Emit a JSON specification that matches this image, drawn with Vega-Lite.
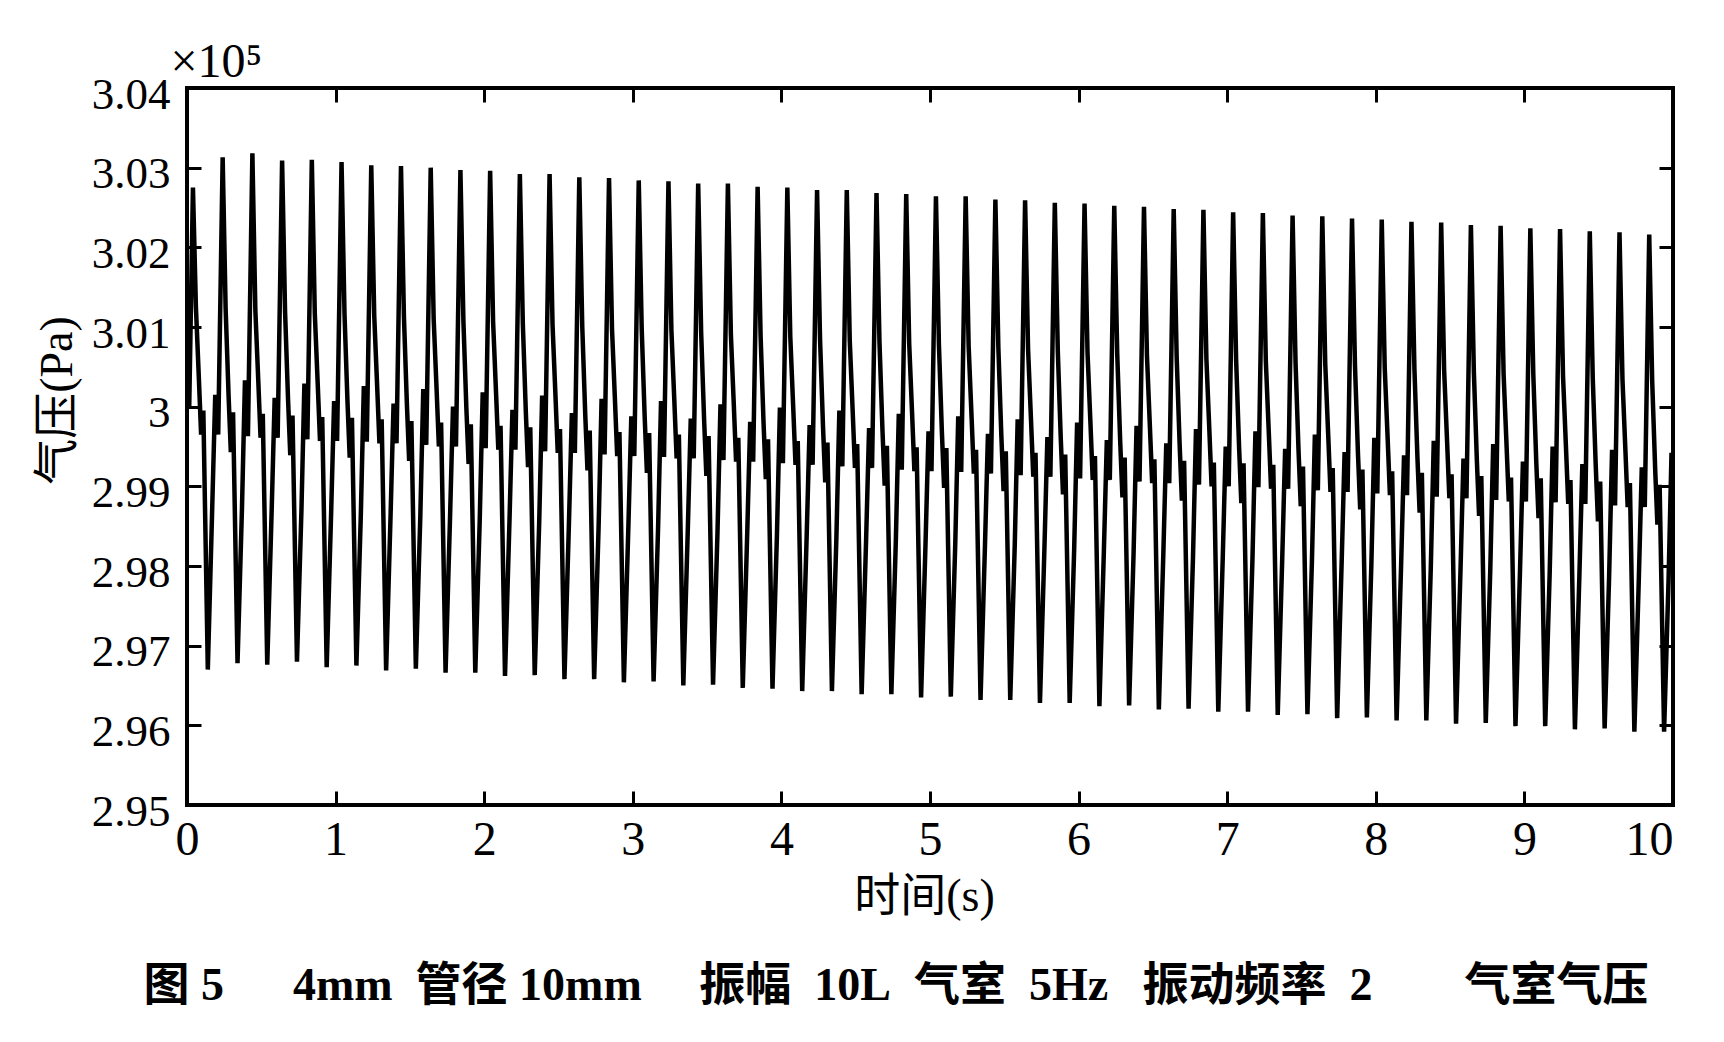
{
  "$schema": "https://vega.github.io/schema/vega-lite/v6.json",
  "autosize": "none",
  "width": 1486,
  "height": 717,
  "padding": {"left": 187, "top": 88, "right": 51, "bottom": 237},
  "background": "white",
  "title": {
    "text": "图 5\u2003\u20024mm\u2002管径 10mm\u2003 振幅\u200210L\u2002气室\u20025Hz\u2002 振动频率\u20022\u2003\u2003气室气压",
    "orient": "bottom",
    "anchor": "middle",
    "offset": 45,
    "dx": -34,
    "font": "Liberation Serif, Noto Sans CJK SC",
    "fontSize": 46,
    "fontWeight": "bold",
    "color": "black"
  },
  "data": {
    "values": [
      {"t":0,"p":3.004},{"t":0.015,"p":3.0},
      {"t":0.04,"p":3.0275},{"t":0.06,"p":3.0125},{"t":0.08,"p":3.0035},{"t":0.095,"p":2.9965},{"t":0.11,"p":2.9995},{"t":0.14,"p":2.967},{"t":0.17,"p":2.9875},{"t":0.19,"p":3.0015},{"t":0.21,"p":2.9965},
      {"t":0.24,"p":3.0313},{"t":0.26,"p":3.0123},{"t":0.28,"p":3.0013},{"t":0.295,"p":2.9943},{"t":0.31,"p":2.9993},{"t":0.34,"p":2.9678},{"t":0.37,"p":2.9873},{"t":0.39,"p":3.0033},{"t":0.41,"p":2.9963},
      {"t":0.44,"p":3.0318},{"t":0.46,"p":3.0121},{"t":0.48,"p":3.0031},{"t":0.495,"p":2.9961},{"t":0.51,"p":2.9991},{"t":0.54,"p":2.9676},{"t":0.57,"p":2.9871},{"t":0.59,"p":3.0011},{"t":0.61,"p":2.9961},
      {"t":0.64,"p":3.0309},{"t":0.66,"p":3.0119},{"t":0.68,"p":3.0009},{"t":0.695,"p":2.9939},{"t":0.71,"p":2.9989},{"t":0.74,"p":2.968},{"t":0.77,"p":2.9869},{"t":0.79,"p":3.0029},{"t":0.81,"p":2.9959},
      {"t":0.84,"p":3.031},{"t":0.86,"p":3.0117},{"t":0.88,"p":3.0027},{"t":0.895,"p":2.9957},{"t":0.91,"p":2.9987},{"t":0.94,"p":2.9673},{"t":0.97,"p":2.9867},{"t":0.99,"p":3.0007},{"t":1.01,"p":2.9957},
      {"t":1.04,"p":3.0307},{"t":1.06,"p":3.0116},{"t":1.08,"p":3.0006},{"t":1.095,"p":2.9936},{"t":1.11,"p":2.9986},{"t":1.14,"p":2.9675},{"t":1.17,"p":2.9866},{"t":1.19,"p":3.0026},{"t":1.21,"p":2.9956},
      {"t":1.24,"p":3.0303},{"t":1.26,"p":3.0114},{"t":1.28,"p":3.0024},{"t":1.295,"p":2.9954},{"t":1.31,"p":2.9984},{"t":1.34,"p":2.9669},{"t":1.37,"p":2.9864},{"t":1.39,"p":3.0004},{"t":1.41,"p":2.9954},
      {"t":1.44,"p":3.0302},{"t":1.46,"p":3.0112},{"t":1.48,"p":3.0002},{"t":1.495,"p":2.9932},{"t":1.51,"p":2.9982},{"t":1.54,"p":2.9671},{"t":1.57,"p":2.9862},{"t":1.59,"p":3.0022},{"t":1.61,"p":2.9952},
      {"t":1.64,"p":3.03},{"t":1.66,"p":3.011},{"t":1.68,"p":3.002},{"t":1.695,"p":2.995},{"t":1.71,"p":2.998},{"t":1.74,"p":2.9666},{"t":1.77,"p":2.986},{"t":1.79,"p":3.0},{"t":1.81,"p":2.995},
      {"t":1.84,"p":3.0297},{"t":1.86,"p":3.0108},{"t":1.88,"p":2.9998},{"t":1.895,"p":2.9928},{"t":1.91,"p":2.9978},{"t":1.94,"p":2.9666},{"t":1.97,"p":2.9858},{"t":1.99,"p":3.0018},{"t":2.01,"p":2.9948},
      {"t":2.04,"p":3.0296},{"t":2.06,"p":3.0106},{"t":2.08,"p":3.0016},{"t":2.095,"p":2.9946},{"t":2.11,"p":2.9976},{"t":2.14,"p":2.9662},{"t":2.17,"p":2.9856},{"t":2.19,"p":2.9996},{"t":2.21,"p":2.9946},
      {"t":2.24,"p":3.0292},{"t":2.26,"p":3.0104},{"t":2.28,"p":2.9994},{"t":2.295,"p":2.9924},{"t":2.31,"p":2.9974},{"t":2.34,"p":2.9663},{"t":2.37,"p":2.9854},{"t":2.39,"p":3.0014},{"t":2.41,"p":2.9944},
      {"t":2.44,"p":3.0292},{"t":2.46,"p":3.0102},{"t":2.48,"p":3.0012},{"t":2.495,"p":2.9942},{"t":2.51,"p":2.9972},{"t":2.54,"p":2.9658},{"t":2.57,"p":2.9852},{"t":2.59,"p":2.9992},{"t":2.61,"p":2.9942},
      {"t":2.64,"p":3.0288},{"t":2.66,"p":3.01},{"t":2.68,"p":2.999},{"t":2.695,"p":2.992},{"t":2.71,"p":2.997},{"t":2.74,"p":2.9658},{"t":2.77,"p":2.985},{"t":2.79,"p":3.001},{"t":2.81,"p":2.994},
      {"t":2.84,"p":3.0287},{"t":2.86,"p":3.0098},{"t":2.88,"p":3.0008},{"t":2.895,"p":2.9938},{"t":2.91,"p":2.9968},{"t":2.94,"p":2.9654},{"t":2.97,"p":2.9848},{"t":2.99,"p":2.9988},{"t":3.01,"p":2.9938},
      {"t":3.04,"p":3.0284},{"t":3.06,"p":3.0097},{"t":3.08,"p":2.9987},{"t":3.095,"p":2.9917},{"t":3.11,"p":2.9967},{"t":3.14,"p":2.9655},{"t":3.17,"p":2.9847},{"t":3.19,"p":3.0007},{"t":3.21,"p":2.9937},
      {"t":3.24,"p":3.0283},{"t":3.26,"p":3.0095},{"t":3.28,"p":3.0005},{"t":3.295,"p":2.9935},{"t":3.31,"p":2.9965},{"t":3.34,"p":2.965},{"t":3.37,"p":2.9845},{"t":3.39,"p":2.9985},{"t":3.41,"p":2.9935},
      {"t":3.44,"p":3.028},{"t":3.46,"p":3.0093},{"t":3.48,"p":2.9983},{"t":3.495,"p":2.9913},{"t":3.51,"p":2.9963},{"t":3.54,"p":2.9651},{"t":3.57,"p":2.9843},{"t":3.59,"p":3.0003},{"t":3.61,"p":2.9933},
      {"t":3.64,"p":3.028},{"t":3.66,"p":3.0091},{"t":3.68,"p":3.0001},{"t":3.695,"p":2.9931},{"t":3.71,"p":2.9961},{"t":3.74,"p":2.9647},{"t":3.77,"p":2.9841},{"t":3.79,"p":2.9981},{"t":3.81,"p":2.9931},
      {"t":3.84,"p":3.0276},{"t":3.86,"p":3.0089},{"t":3.88,"p":2.9979},{"t":3.895,"p":2.9909},{"t":3.91,"p":2.9959},{"t":3.94,"p":2.9646},{"t":3.97,"p":2.9839},{"t":3.99,"p":2.9999},{"t":4.01,"p":2.9929},
      {"t":4.04,"p":3.0275},{"t":4.06,"p":3.0087},{"t":4.08,"p":2.9997},{"t":4.095,"p":2.9927},{"t":4.11,"p":2.9957},{"t":4.14,"p":2.9643},{"t":4.17,"p":2.9837},{"t":4.19,"p":2.9977},{"t":4.21,"p":2.9927},
      {"t":4.24,"p":3.0272},{"t":4.26,"p":3.0085},{"t":4.28,"p":2.9975},{"t":4.295,"p":2.9905},{"t":4.31,"p":2.9955},{"t":4.34,"p":2.9643},{"t":4.37,"p":2.9835},{"t":4.39,"p":2.9995},{"t":4.41,"p":2.9925},
      {"t":4.44,"p":3.0272},{"t":4.46,"p":3.0083},{"t":4.48,"p":2.9993},{"t":4.495,"p":2.9923},{"t":4.51,"p":2.9953},{"t":4.54,"p":2.9639},{"t":4.57,"p":2.9833},{"t":4.59,"p":2.9973},{"t":4.61,"p":2.9923},
      {"t":4.64,"p":3.0268},{"t":4.66,"p":3.0081},{"t":4.68,"p":2.9971},{"t":4.695,"p":2.9901},{"t":4.71,"p":2.9951},{"t":4.74,"p":2.9639},{"t":4.77,"p":2.9831},{"t":4.79,"p":2.9991},{"t":4.81,"p":2.9921},
      {"t":4.84,"p":3.0267},{"t":4.86,"p":3.0079},{"t":4.88,"p":2.9989},{"t":4.895,"p":2.9919},{"t":4.91,"p":2.9949},{"t":4.94,"p":2.9635},{"t":4.97,"p":2.9829},{"t":4.99,"p":2.9969},{"t":5.01,"p":2.9919},
      {"t":5.04,"p":3.0264},{"t":5.06,"p":3.0078},{"t":5.08,"p":2.9968},{"t":5.095,"p":2.9898},{"t":5.11,"p":2.9948},{"t":5.14,"p":2.9636},{"t":5.17,"p":2.9828},{"t":5.19,"p":2.9988},{"t":5.21,"p":2.9918},
      {"t":5.24,"p":3.0264},{"t":5.26,"p":3.0076},{"t":5.28,"p":2.9986},{"t":5.295,"p":2.9916},{"t":5.31,"p":2.9946},{"t":5.34,"p":2.9632},{"t":5.37,"p":2.9826},{"t":5.39,"p":2.9966},{"t":5.41,"p":2.9916},
      {"t":5.44,"p":3.026},{"t":5.46,"p":3.0074},{"t":5.48,"p":2.9964},{"t":5.495,"p":2.9894},{"t":5.51,"p":2.9944},{"t":5.54,"p":2.9632},{"t":5.57,"p":2.9824},{"t":5.59,"p":2.9984},{"t":5.61,"p":2.9914},
      {"t":5.64,"p":3.0259},{"t":5.66,"p":3.0072},{"t":5.68,"p":2.9982},{"t":5.695,"p":2.9912},{"t":5.71,"p":2.9942},{"t":5.74,"p":2.9628},{"t":5.77,"p":2.9822},{"t":5.79,"p":2.9962},{"t":5.81,"p":2.9912},
      {"t":5.84,"p":3.0256},{"t":5.86,"p":3.007},{"t":5.88,"p":2.996},{"t":5.895,"p":2.989},{"t":5.91,"p":2.994},{"t":5.94,"p":2.9628},{"t":5.97,"p":2.982},{"t":5.99,"p":2.998},{"t":6.01,"p":2.991},
      {"t":6.04,"p":3.0255},{"t":6.06,"p":3.0068},{"t":6.08,"p":2.9978},{"t":6.095,"p":2.9908},{"t":6.11,"p":2.9938},{"t":6.14,"p":2.9624},{"t":6.17,"p":2.9818},{"t":6.19,"p":2.9958},{"t":6.21,"p":2.9908},
      {"t":6.24,"p":3.0252},{"t":6.26,"p":3.0066},{"t":6.28,"p":2.9956},{"t":6.295,"p":2.9886},{"t":6.31,"p":2.9936},{"t":6.34,"p":2.9625},{"t":6.37,"p":2.9816},{"t":6.39,"p":2.9976},{"t":6.41,"p":2.9906},
      {"t":6.44,"p":3.0251},{"t":6.46,"p":3.0064},{"t":6.48,"p":2.9974},{"t":6.495,"p":2.9904},{"t":6.51,"p":2.9934},{"t":6.54,"p":2.962},{"t":6.57,"p":2.9814},{"t":6.59,"p":2.9954},{"t":6.61,"p":2.9904},
      {"t":6.64,"p":3.0248},{"t":6.66,"p":3.0062},{"t":6.68,"p":2.9952},{"t":6.695,"p":2.9882},{"t":6.71,"p":2.9932},{"t":6.74,"p":2.9621},{"t":6.77,"p":2.9812},{"t":6.79,"p":2.9972},{"t":6.81,"p":2.9902},
      {"t":6.84,"p":3.0247},{"t":6.86,"p":3.006},{"t":6.88,"p":2.997},{"t":6.895,"p":2.99},{"t":6.91,"p":2.993},{"t":6.94,"p":2.9617},{"t":6.97,"p":2.981},{"t":6.99,"p":2.995},{"t":7.01,"p":2.99},
      {"t":7.04,"p":3.0244},{"t":7.06,"p":3.0059},{"t":7.08,"p":2.9949},{"t":7.095,"p":2.9879},{"t":7.11,"p":2.9929},{"t":7.14,"p":2.9617},{"t":7.17,"p":2.9809},{"t":7.19,"p":2.9969},{"t":7.21,"p":2.9899},
      {"t":7.24,"p":3.0243},{"t":7.26,"p":3.0057},{"t":7.28,"p":2.9967},{"t":7.295,"p":2.9897},{"t":7.31,"p":2.9927},{"t":7.34,"p":2.9613},{"t":7.37,"p":2.9807},{"t":7.39,"p":2.9947},{"t":7.41,"p":2.9897},
      {"t":7.44,"p":3.024},{"t":7.46,"p":3.0055},{"t":7.48,"p":2.9945},{"t":7.495,"p":2.9875},{"t":7.51,"p":2.9925},{"t":7.54,"p":2.9614},{"t":7.57,"p":2.9805},{"t":7.59,"p":2.9965},{"t":7.61,"p":2.9895},
      {"t":7.64,"p":3.0239},{"t":7.66,"p":3.0053},{"t":7.68,"p":2.9963},{"t":7.695,"p":2.9893},{"t":7.71,"p":2.9923},{"t":7.74,"p":2.9609},{"t":7.77,"p":2.9803},{"t":7.79,"p":2.9943},{"t":7.81,"p":2.9893},
      {"t":7.84,"p":3.0236},{"t":7.86,"p":3.0051},{"t":7.88,"p":2.9941},{"t":7.895,"p":2.9871},{"t":7.91,"p":2.9921},{"t":7.94,"p":2.961},{"t":7.97,"p":2.9801},{"t":7.99,"p":2.9961},{"t":8.01,"p":2.9891},
      {"t":8.04,"p":3.0235},{"t":8.06,"p":3.0049},{"t":8.08,"p":2.9959},{"t":8.095,"p":2.9889},{"t":8.11,"p":2.9919},{"t":8.14,"p":2.9606},{"t":8.17,"p":2.9799},{"t":8.19,"p":2.9939},{"t":8.21,"p":2.9889},
      {"t":8.24,"p":3.0232},{"t":8.26,"p":3.0047},{"t":8.28,"p":2.9937},{"t":8.295,"p":2.9867},{"t":8.31,"p":2.9917},{"t":8.34,"p":2.9606},{"t":8.37,"p":2.9797},{"t":8.39,"p":2.9957},{"t":8.41,"p":2.9887},
      {"t":8.44,"p":3.0231},{"t":8.46,"p":3.0045},{"t":8.48,"p":2.9955},{"t":8.495,"p":2.9885},{"t":8.51,"p":2.9915},{"t":8.54,"p":2.9602},{"t":8.57,"p":2.9795},{"t":8.59,"p":2.9935},{"t":8.61,"p":2.9885},
      {"t":8.64,"p":3.0228},{"t":8.66,"p":3.0043},{"t":8.68,"p":2.9933},{"t":8.695,"p":2.9863},{"t":8.71,"p":2.9913},{"t":8.74,"p":2.9603},{"t":8.77,"p":2.9793},{"t":8.79,"p":2.9953},{"t":8.81,"p":2.9883},
      {"t":8.84,"p":3.0227},{"t":8.86,"p":3.0041},{"t":8.88,"p":2.9951},{"t":8.895,"p":2.9881},{"t":8.91,"p":2.9911},{"t":8.94,"p":2.9599},{"t":8.97,"p":2.9791},{"t":8.99,"p":2.9931},{"t":9.01,"p":2.9881},
      {"t":9.04,"p":3.0224},{"t":9.06,"p":3.004},{"t":9.08,"p":2.993},{"t":9.095,"p":2.986},{"t":9.11,"p":2.991},{"t":9.14,"p":2.9599},{"t":9.17,"p":2.979},{"t":9.19,"p":2.995},{"t":9.21,"p":2.988},
      {"t":9.24,"p":3.0223},{"t":9.26,"p":3.0038},{"t":9.28,"p":2.9948},{"t":9.295,"p":2.9878},{"t":9.31,"p":2.9908},{"t":9.34,"p":2.9595},{"t":9.37,"p":2.9788},{"t":9.39,"p":2.9928},{"t":9.41,"p":2.9878},
      {"t":9.44,"p":3.022},{"t":9.46,"p":3.0036},{"t":9.48,"p":2.9926},{"t":9.495,"p":2.9856},{"t":9.51,"p":2.9906},{"t":9.54,"p":2.9596},{"t":9.57,"p":2.9786},{"t":9.59,"p":2.9946},{"t":9.61,"p":2.9876},
      {"t":9.64,"p":3.0219},{"t":9.66,"p":3.0034},{"t":9.68,"p":2.9944},{"t":9.695,"p":2.9874},{"t":9.71,"p":2.9904},{"t":9.74,"p":2.9592},{"t":9.77,"p":2.9784},{"t":9.79,"p":2.9924},{"t":9.81,"p":2.9874},
      {"t":9.84,"p":3.0216},{"t":9.86,"p":3.0032},{"t":9.88,"p":2.9922},{"t":9.895,"p":2.9852},{"t":9.91,"p":2.9902},{"t":9.94,"p":2.9592},{"t":9.97,"p":2.9782},{"t":9.99,"p":2.9942},{"t":10,"p":2.99}
    ]
  },
  "layer": [
    {
      "mark": {"type": "line", "color": "black", "strokeWidth": 4.5, "strokeJoin": "miter", "clip": true},
      "encoding": {
        "x": {
          "field": "t", "type": "quantitative",
          "scale": {"domain": [0, 10], "nice": false, "zero": false},
          "axis": {
            "orient": "bottom",
            "values": [0,1,2,3,4,5,6,7,8,9,10],
            "tickSize": -14,
            "labelPadding": 25,
            "labelFlush": false,
            "labelAlign": {"condition": {"test": "datum.value == 10", "value": "right"}, "value": "center"},
            "title": "时间(s)",
            "titleFont": "Liberation Serif, Noto Sans CJK SC",
            "titleFontSize": 46,
            "titleFontWeight": "normal",
            "titleX": 737,
            "titleY": 91,
            "titleAlign": "center",
            "titleBaseline": "middle"
          }
        },
        "y": {
          "field": "p", "type": "quantitative",
          "scale": {"domain": [2.95, 3.04], "nice": false, "zero": false},
          "axis": {
            "orient": "left",
            "values": [2.95,2.96,2.97,2.98,2.99,3,3.01,3.02,3.03,3.04],
            "labelExpr": "format(datum.value, '.2~f')",
            "tickSize": -14,
            "labelPadding": 31,
            "labelOffset": 6,
            "labelFontSize": 45,
            "labelFlush": false,
            "title": "气压(Pa)",
            "titleFont": "Liberation Serif, Noto Sans CJK SC",
            "titleFontSize": 46,
            "titleFontWeight": "normal",
            "titleAngle": 270,
            "titleX": -130,
            "titleY": 312,
            "titleAlign": "center",
            "titleBaseline": "middle"
          }
        }
      }
    },
    {
      "mark": {"type": "line", "strokeOpacity": 0, "color": "black"},
      "encoding": {
        "x": {
          "field": "t", "type": "quantitative",
          "axis": {
            "orient": "top",
            "values": [0,1,2,3,4,5,6,7,8,9,10],
            "tickSize": -14,
            "labels": false,
            "title": "×10⁵",
            "titleFont": "Liberation Serif",
            "titleFontSize": 48,
            "titleFontWeight": "normal",
            "titleAngle": 0,
            "titleX": -17,
            "titleY": -12,
            "titleAlign": "left",
            "titleBaseline": "alphabetic"
          }
        },
        "y": {
          "field": "p", "type": "quantitative",
          "axis": {
            "orient": "right",
            "values": [2.95,2.96,2.97,2.98,2.99,3,3.01,3.02,3.03,3.04],
            "tickSize": -14,
            "labels": false,
            "title": null
          }
        }
      }
    }
  ],
  "resolve": {"axis": {"x": "independent", "y": "independent"}},
  "config": {
    "view": {"stroke": "black", "strokeWidth": 4},
    "axis": {
      "grid": false,
      "domain": false,
      "ticks": true,
      "tickColor": "black",
      "tickWidth": 3,
      "labelColor": "black",
      "titleColor": "black",
      "labelFont": "Liberation Serif",
      "labelFontSize": 48,
      "labelOverlap": false
    }
  }
}
